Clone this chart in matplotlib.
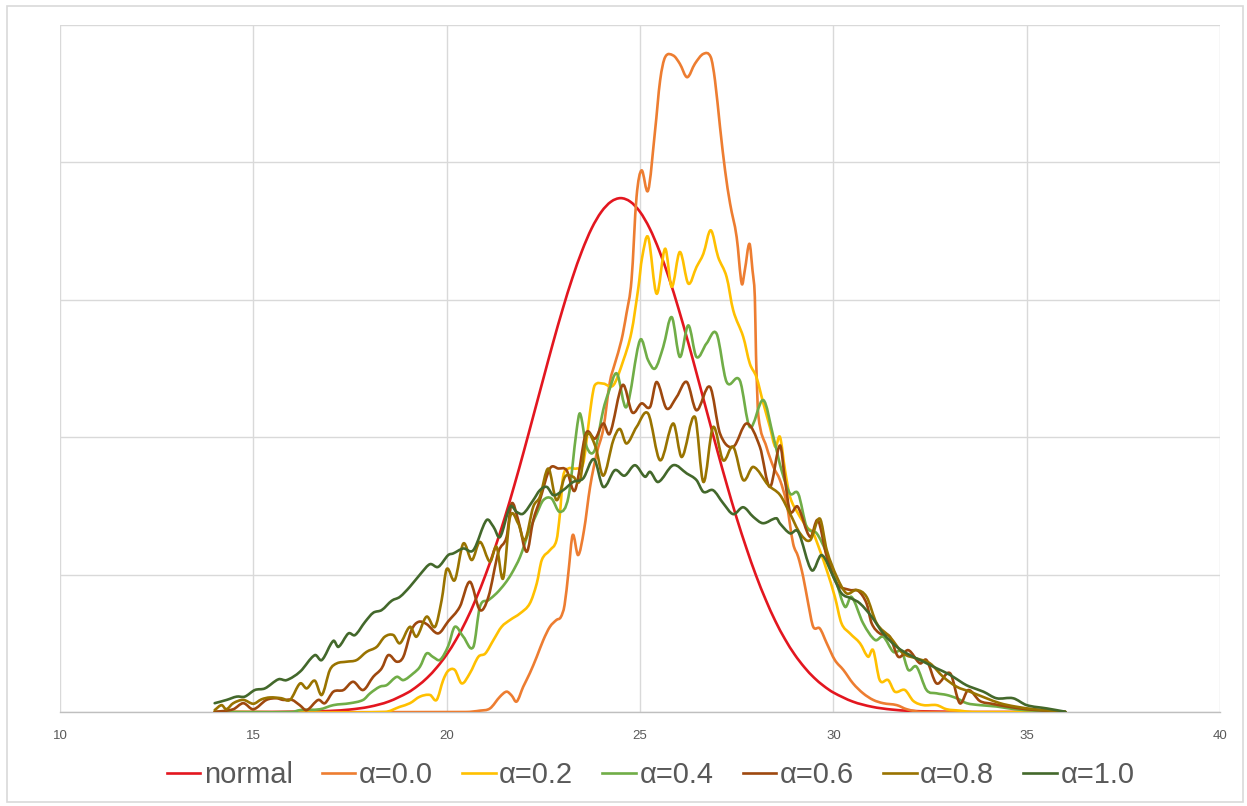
import matplotlib
matplotlib.use("Agg")
import matplotlib.pyplot as plt
from matplotlib.patches import Rectangle, PathPatch
from matplotlib.path import Path
from matplotlib.lines import Line2D

# ---------------- data (density in %) ----------------
normal_x = [14, 14.5, 15, 15.5, 16, 16.5, 17, 17.5, 18, 18.5, 19, 19.25, 19.5, 19.75,
            20, 20.25, 20.5, 20.75, 21, 21.25, 21.5, 21.75, 22, 22.25, 22.5, 22.75,
            23, 23.25, 23.5, 23.75, 24, 24.25, 24.5, 24.75, 25, 25.25, 25.5, 25.75,
            26, 26.25, 26.5, 26.75, 27, 27.25, 27.5, 27.75, 28, 28.25, 28.5, 28.75,
            29, 29.25, 29.5, 29.75, 30, 30.5, 31, 31.5, 32, 32.5, 33, 33.5, 34, 34.5,
            35, 35.5, 36]
normal_y = [0, 0, 0, 0, 0.01, 0.02, 0.04, 0.09, 0.19, 0.38, 0.71, 0.95, 1.25, 1.63,
            2.09, 2.65, 3.31, 4.09, 4.97, 5.97, 7.06, 8.25, 9.51, 10.82, 12.13, 13.43,
            14.66, 15.79, 16.78, 17.60, 18.20, 18.57, 18.70, 18.57, 18.20, 17.60, 16.78, 15.79,
            14.66, 13.43, 12.13, 10.82, 9.51, 8.25, 7.06, 5.97, 4.97, 4.09, 3.31, 2.65,
            2.09, 1.63, 1.25, 0.95, 0.71, 0.38, 0.19, 0.09, 0.04, 0.02, 0.01, 0, 0, 0,
            0, 0, 0]

a00_x = [14, 20.5, 20.86, 21.12, 21.38, 21.55, 21.68, 21.81, 21.98, 22.15, 22.33, 22.5,
         22.67, 22.84, 22.95, 23.05, 23.15, 23.26, 23.4, 23.55, 23.71, 23.88, 24.05, 24.22,
         24.35, 24.52, 24.65, 24.78, 24.91, 25.04, 25.21, 25.39, 25.52, 25.65, 25.86, 26.03,
         26.22, 26.42, 26.64, 26.83, 26.94, 27.07, 27.2, 27.33, 27.5, 27.63, 27.71, 27.83,
         27.91, 27.97, 28.0, 28.06, 28.27, 28.45, 28.62, 28.79, 28.96, 29.09, 29.22, 29.35,
         29.48, 29.65, 29.83, 30.04, 30.26, 30.51, 30.77, 31.03, 31.29, 31.64, 31.9, 32.3, 36]
a00_y = [0, 0, 0.05, 0.13, 0.56, 0.74, 0.6, 0.38, 0.92, 1.41, 2.01, 2.62,
         3.1, 3.35, 3.45, 3.9, 5.1, 6.44, 5.71, 6.6, 8.2, 9.41, 10.3, 12.0,
         12.68, 13.53, 14.5, 15.71, 18.74, 19.71, 18.98, 21.16, 22.98, 23.83, 23.89, 23.59,
         23.1, 23.59, 23.95, 23.83, 22.98, 21.28, 19.71, 18.5, 17.28, 15.59, 16.07, 17.04,
         16.07, 15.1, 13.0, 10.8, 9.65, 8.92, 8.44, 7.6, 6.13, 5.65, 4.92, 3.95,
         3.1, 3.04, 2.5, 1.89, 1.53, 1.04, 0.68, 0.44, 0.32, 0.25, 0.1, 0, 0]

a02_x = [14, 18.4, 18.79, 19.05, 19.31, 19.57, 19.74, 19.91, 20.04, 20.21, 20.39, 20.6,
         20.82, 21.0, 21.21, 21.42, 21.64, 21.9, 22.15, 22.33, 22.46, 22.67, 22.84, 22.93,
         23.01, 23.15, 23.36, 23.53, 23.66, 23.75, 23.83, 24.05, 24.31, 24.57, 24.78, 24.96,
         25.05, 25.21, 25.43, 25.65, 25.82, 26.03, 26.25, 26.46, 26.64, 26.83, 27.02, 27.24,
         27.41, 27.67, 27.84, 28.01, 28.19, 28.36, 28.5, 28.62, 28.75, 28.88, 29.09, 29.31,
         29.48, 29.65, 29.83, 30.04, 30.21, 30.43, 30.69, 30.9, 31.03, 31.2, 31.42, 31.59,
         31.85, 32.07, 32.33, 32.67, 32.93, 33.27, 33.6, 36]
a02_y = [0, 0, 0.19, 0.32, 0.56, 0.62, 0.44, 1.16, 1.5, 1.53, 1.04, 1.41,
         2.01, 2.13, 2.62, 3.1, 3.35, 3.59, 3.95, 4.68, 5.53, 5.89, 6.25, 7.22,
         8.56, 8.86, 8.86, 9.04, 10.37, 11.35, 11.89, 11.95, 11.89, 12.8, 13.83, 15.47,
         16.5, 17.28, 15.22, 16.86, 15.47, 16.74, 15.59, 16.19, 16.68, 17.53, 16.56, 15.83,
         14.62, 13.65, 12.68, 12.19, 11.23, 10.37, 9.65, 10.01, 8.8, 7.83, 7.22, 6.74,
         6.5, 5.89, 5.16, 4.19, 3.23, 2.86, 2.5, 2.01, 2.25, 1.16, 1.16, 0.74,
         0.8, 0.4, 0.25, 0.25, 0.1, 0.05, 0, 0]

a04_x = [14, 16.0, 16.21, 16.72, 17.07, 17.5, 17.84, 18.02, 18.27, 18.45, 18.71, 18.88,
         19.14, 19.31, 19.48, 19.65, 19.83, 20.04, 20.21, 20.43, 20.69, 20.86, 21.08, 21.29,
         21.51, 21.68, 21.9, 22.11, 22.33, 22.5, 22.71, 22.93, 23.15, 23.36, 23.45, 23.62,
         23.83, 24.05, 24.18, 24.4, 24.65, 25.0, 25.21, 25.39, 25.6, 25.82, 26.03, 26.25,
         26.46, 26.72, 26.98, 27.24, 27.58, 27.84, 28.19, 28.45, 28.66, 28.88, 29.09, 29.31,
         29.57, 29.83, 30.04, 30.3, 30.47, 30.77, 31.08, 31.29, 31.55, 31.77, 31.94, 32.15,
         32.41, 32.67, 32.93, 33.19, 33.45, 33.79, 34.22, 34.7, 35.2, 36]
a04_y = [0, 0, 0.07, 0.1, 0.25, 0.32, 0.44, 0.68, 0.92, 0.98, 1.28, 1.16,
         1.41, 1.65, 2.13, 2.0, 1.9, 2.4, 3.1, 2.74, 2.37, 3.83, 4.07, 4.32,
         4.68, 5.04, 5.65, 6.5, 7.22, 7.71, 7.77, 7.28, 7.83, 10.25, 10.86, 9.65,
         9.53, 11.0, 11.6, 12.32, 11.1, 13.53, 12.8, 12.5, 13.28, 14.37, 12.92, 14.07,
         12.92, 13.41, 13.77, 12.01, 12.07, 10.37, 11.35, 10.01, 8.8, 7.95, 7.95, 6.74,
         6.5, 5.77, 4.92, 3.83, 4.19, 3.23, 2.62, 2.74, 2.19, 2.19, 1.53, 1.65,
         0.8, 0.68, 0.62, 0.5, 0.32, 0.25, 0.2, 0.1, 0.05, 0]

a06_x = [14, 14.48, 14.74, 15.0, 15.34, 15.6, 15.77, 16.0, 16.2, 16.38, 16.68, 16.85,
         17.07, 17.33, 17.58, 17.84, 18.1, 18.32, 18.49, 18.71, 18.88, 19.09, 19.27, 19.48,
         19.78, 20.04, 20.34, 20.6, 20.86, 21.08, 21.34, 21.55, 21.68, 21.85, 22.07, 22.24,
         22.41, 22.67, 22.89, 23.1, 23.32, 23.6, 23.84, 24.05, 24.22, 24.55, 24.8, 25.04,
         25.26, 25.43, 25.69, 25.95, 26.21, 26.46, 26.81, 27.07, 27.41, 27.76, 28.1, 28.36,
         28.62, 28.75, 28.88, 29.08, 29.4, 29.6, 29.83, 30.09, 30.43, 30.65, 30.86, 30.99,
         31.2, 31.46, 31.68, 31.94, 32.24, 32.41, 32.67, 33.02, 33.27, 33.49, 33.79, 34.1,
         34.5, 35.0, 35.5, 36]
a06_y = [0, 0.1, 0.32, 0.1, 0.44, 0.5, 0.44, 0.44, 0.25, 0.07, 0.44, 0.32,
         0.74, 0.8, 1.1, 0.8, 1.28, 1.59, 2.07, 1.83, 2.01, 2.98, 3.28, 3.2,
         2.86, 3.3, 3.83, 4.74, 3.71, 4.19, 5.83, 6.37, 7.59, 6.98, 5.83, 6.98,
         7.71, 8.86, 8.86, 8.8, 8.07, 10.13, 9.95, 10.5, 10.13, 11.9, 10.9, 11.23,
         11.1, 12.01, 11.04, 11.47, 12.01, 10.98, 11.83, 10.13, 9.65, 10.5, 9.65, 8.19,
         9.7, 8.44, 7.3, 7.47, 6.37, 6.98, 5.65, 4.68, 4.44, 4.4, 3.95, 3.23,
         2.86, 2.74, 2.01, 2.25, 1.77, 1.89, 1.04, 1.41, 0.32, 0.8, 0.4, 0.3,
         0.2, 0.1, 0.05, 0]

a08_x = [14, 14.18, 14.3, 14.48, 14.74, 15.0, 15.21, 15.43, 15.73, 15.95, 16.21, 16.38,
         16.59, 16.77, 16.98, 17.16, 17.41, 17.67, 17.93, 18.19, 18.4, 18.62, 18.79, 19.05,
         19.22, 19.48, 19.7, 19.87, 20.0, 20.21, 20.43, 20.65, 20.86, 21.12, 21.29, 21.46,
         21.64, 21.85, 22.02, 22.24, 22.41, 22.63, 22.84, 23.06, 23.27, 23.45, 23.62, 23.85,
         24.05, 24.31, 24.48, 24.65, 24.91, 25.21, 25.52, 25.86, 26.08, 26.42, 26.64, 26.89,
         27.15, 27.41, 27.67, 27.93, 28.32, 28.62, 28.88, 29.14, 29.4, 29.65, 29.83, 30.09,
         30.34, 30.6, 30.86, 31.12, 31.46, 31.81, 32.15, 32.5, 32.84, 33.19, 33.53, 33.96,
         34.31, 34.7, 35.2, 36]
a08_y = [0.07, 0.25, 0.1, 0.32, 0.44, 0.3, 0.46, 0.53, 0.5, 0.44, 1.04, 0.86,
         1.14, 0.62, 1.53, 1.77, 1.83, 1.89, 2.19, 2.37, 2.74, 2.8, 2.5, 3.1,
         2.74, 3.47, 3.1, 4.07, 5.2, 4.8, 6.13, 5.53, 6.19, 5.47, 6.01, 4.86,
         7.1, 6.86, 6.25, 7.47, 7.83, 8.86, 7.71, 8.56, 8.56, 8.44, 10.07, 9.65,
         8.6, 9.89, 10.3, 9.77, 10.37, 10.86, 9.16, 10.5, 9.28, 10.74, 8.37, 10.37,
         9.16, 9.65, 8.44, 8.92, 8.25, 7.9, 7.22, 6.5, 6.25, 7.04, 5.89, 4.92,
         4.32, 4.44, 4.19, 3.23, 2.74, 2.13, 1.95, 1.77, 1.28, 0.92, 0.74, 0.5,
         0.32, 0.2, 0.1, 0]

a10_x = [14, 14.31, 14.57, 14.78, 15.04, 15.3, 15.65, 15.86, 16.21, 16.59, 16.77, 17.07,
         17.2, 17.46, 17.63, 17.89, 18.1, 18.32, 18.58, 18.79, 19.05, 19.35, 19.57, 19.78,
         20.04, 20.17, 20.43, 20.69, 21.03, 21.21, 21.38, 21.64, 21.81, 21.98, 22.24, 22.41,
         22.59, 22.76, 23.01, 23.27, 23.53, 23.81, 24.05, 24.35, 24.6, 24.87, 25.13, 25.26,
         25.47, 25.86, 26.21, 26.46, 26.64, 26.89, 27.15, 27.41, 27.67, 27.93, 28.18, 28.53,
         28.62, 28.88, 29.09, 29.44, 29.7, 30.0, 30.21, 30.47, 30.69, 30.99, 31.29, 31.64,
         31.98, 32.33, 32.67, 33.02, 33.36, 33.53, 33.88, 34.22, 34.65, 35.0, 35.52, 36.0]
a10_y = [0.32, 0.44, 0.56, 0.56, 0.8, 0.86, 1.19, 1.16, 1.47, 2.07, 1.89, 2.59,
         2.37, 2.86, 2.8, 3.28, 3.61, 3.71, 4.05, 4.19, 4.56, 5.07, 5.38, 5.28,
         5.71, 5.77, 5.95, 5.89, 6.98, 6.74, 6.37, 7.47, 7.28, 7.22, 7.71, 8.07,
         8.19, 7.89, 8.07, 8.37, 8.5, 9.2, 8.19, 8.8, 8.6, 8.98, 8.56, 8.74,
         8.37, 8.98, 8.68, 8.44, 8.01, 8.07, 7.6, 7.2, 7.45, 7.1, 6.87, 7.05,
         6.86, 6.5, 6.56, 5.16, 5.71, 4.92, 4.32, 4.13, 3.95, 3.47, 2.86, 2.37,
         2.07, 1.83, 1.59, 1.35, 1.04, 0.92, 0.74, 0.5, 0.5, 0.25, 0.13, 0.01]

labels = ["normal", "α=0.0", "α=0.2", "α=0.4", "α=0.6", "α=0.8", "α=1.0"]
colors = ["#E3161F", "#ED7D31", "#FFC000", "#70AD47", "#9E480E", "#997300", "#43682B"]
x_ticks = [10, 15, 20, 25, 30, 35, 40]

series = [(normal_x, normal_y), (a00_x, a00_y), (a02_x, a02_y), (a04_x, a04_y),
          (a06_x, a06_y), (a08_x, a08_y), (a10_x, a10_y)]


def smooth_path(xs, ys):
    """Smoothed line (like a spreadsheet 'smoothed line') through the data points,
    built as cubic Bezier segments in data coordinates."""
    n = len(xs)
    slopes = []
    for i in range(n):
        if i == 0:
            m = (ys[1] - ys[0]) / (xs[1] - xs[0])
        elif i == n - 1:
            m = (ys[-1] - ys[-2]) / (xs[-1] - xs[-2])
        else:
            m = (ys[i + 1] - ys[i - 1]) / (xs[i + 1] - xs[i - 1])
        slopes.append(m)
    verts = [(xs[0], ys[0])]
    codes = [Path.MOVETO]
    for i in range(n - 1):
        h = xs[i + 1] - xs[i]
        c1 = (xs[i] + h / 3, ys[i] + slopes[i] * h / 3)
        c2 = (xs[i + 1] - h / 3, ys[i + 1] - slopes[i + 1] * h / 3)
        verts += [c1, c2, (xs[i + 1], ys[i + 1])]
        codes += [Path.CURVE4, Path.CURVE4, Path.CURVE4]
    return Path(verts, codes)


# ---------------- figure ----------------
plt.rcParams['font.family'] = ['Liberation Sans Narrow', 'Liberation Sans', 'DejaVu Sans']
fig = plt.figure(figsize=(12.47, 8.06), dpi=100)
ax = fig.add_axes([60 / 1247, 1 - 712 / 806, 1160 / 1247, 687 / 806])

LW = 1.9
handles = []
for (xs, ys), lab, col in zip(series, labels, colors):
    patch = PathPatch(smooth_path(xs, ys), facecolor='none', edgecolor=col, lw=LW,
                      joinstyle='round', capstyle='round', zorder=3)
    ax.add_patch(patch)
    handles.append(Line2D([], [], color=col, lw=LW, label=lab))

ax.set_xlim(10, 40)
ax.set_ylim(0, 25)
ax.set_xticks(x_ticks)
ax.set_xticklabels([str(t) for t in x_ticks])
ax.set_yticks([0, 5, 10, 15, 20, 25])
ax.set_yticklabels([])
ax.grid(True, color="#D9D9D9", lw=1.0)
ax.set_axisbelow(True)
for s in ['top', 'right', 'left']:
    ax.spines[s].set_visible(False)
ax.spines['bottom'].set_color("#BFBFBF")
ax.spines['bottom'].set_linewidth(1.0)
ax.tick_params(axis='both', length=0)
ax.tick_params(axis='x', pad=13, labelsize=9.5, labelcolor="#595959")

fig.legend(handles=handles, loc='center', bbox_to_anchor=(0.5217, 1 - 775 / 806), ncol=7,
           frameon=False, fontsize=21, handlelength=1.15, handletextpad=0.12,
           columnspacing=1.0, labelcolor="#595959")

fig.patches.append(Rectangle((7 / 1247, 1 - 802 / 806), 1236 / 1247, 796 / 806,
                             transform=fig.transFigure, fill=False,
                             edgecolor="#D9D9D9", lw=1.2))

fig.savefig("out.png", dpi=100)
